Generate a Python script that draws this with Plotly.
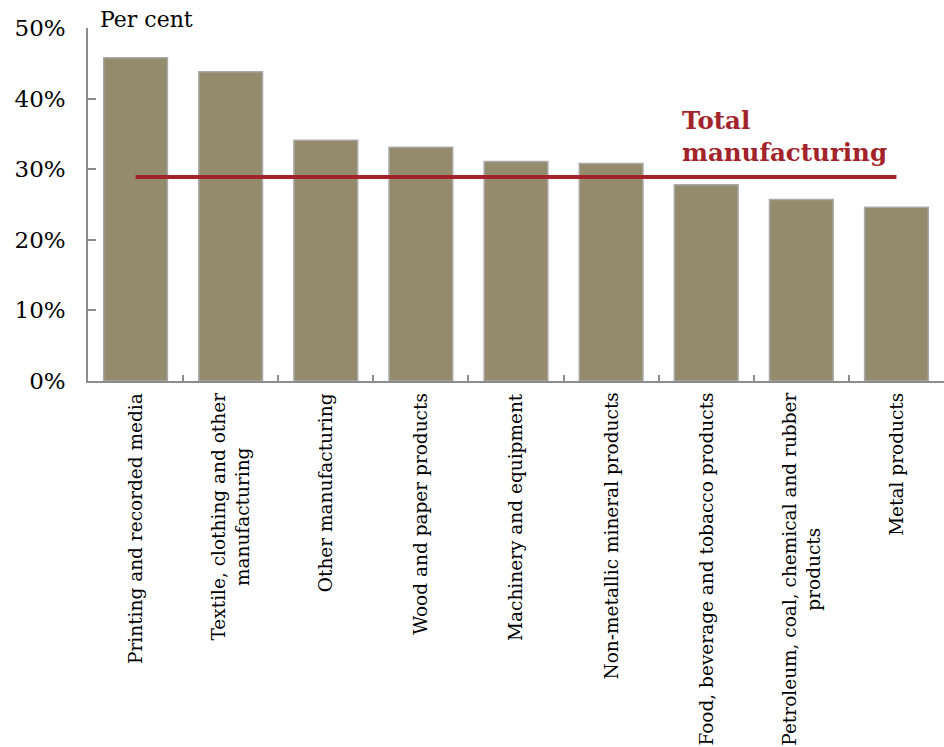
import plotly.graph_objects as go

# Share of output by manufacturing subdivision, per cent
categories = [
    "Printing and recorded media",
    "Textile, clothing and other<br>manufacturing",
    "Other manufacturing",
    "Wood and paper products",
    "Machinery and equipment",
    "Non-metallic mineral products",
    "Food, beverage and tobacco products",
    "Petroleum, coal, chemical and rubber<br>products",
    "Metal products",
]
values = [45.8, 43.8, 34.1, 33.1, 31.1, 30.8, 27.8, 25.7, 24.6]
total_manufacturing = 28.9

y_ticks = [0, 10, 20, 30, 40, 50]
y_tick_labels = [f"{v}%" for v in y_ticks]

FONT = "DejaVu Serif"
RED = "#A3232A"

fig = go.Figure()

fig.add_trace(go.Bar(
    x=list(range(len(categories))),
    y=values,
    marker=dict(color="#948A6C", line=dict(color="#A9A9A9", width=1.5)),
    showlegend=False,
    hoverinfo="skip",
))

fig.add_trace(go.Scatter(
    x=[0, len(categories) - 1],
    y=[total_manufacturing, total_manufacturing],
    mode="lines",
    line=dict(color=RED, width=4),
    showlegend=False,
    hoverinfo="skip",
))

annotations = []
for i, label in enumerate(categories):
    annotations.append(dict(
        x=i, xref="x", y=-0.028, yref="paper",
        text=label, textangle=-90, showarrow=False,
        xanchor="center", yanchor="top", align="center",
        font=dict(family=FONT, size=18.5, color="#000000"),
    ))

annotations.append(dict(
    x=0.012, xref="paper", y=1.025, yref="paper",
    text="Per cent", showarrow=False, xanchor="left", yanchor="middle",
    font=dict(family=FONT, size=22, color="#000000"),
))

annotations.append(dict(
    x=0.692, xref="paper", y=34.6, yref="y",
    text="<b>Total<br>manufacturing</b>", showarrow=False,
    xanchor="left", yanchor="middle", align="left",
    font=dict(family=FONT, size=24.5, color=RED),
))

fig.update_layout(
    width=944, height=747,
    margin=dict(l=88, r=0, t=28, b=366),
    plot_bgcolor="white", paper_bgcolor="white",
    bargap=0.33,
    annotations=annotations,
    xaxis=dict(
        range=[-0.5, len(categories) - 0.5],
        tickmode="array",
        tickvals=[i + 0.5 for i in range(len(categories) - 1)],
        ticktext=[""] * (len(categories) - 1),
        ticks="inside", ticklen=6, tickcolor="#8C8C8C", tickwidth=1.5,
        showline=True, linecolor="#8C8C8C", linewidth=1.5,
        showgrid=False, zeroline=False,
    ),
    yaxis=dict(
        range=[0, 50],
        tickmode="array", tickvals=y_ticks, ticktext=y_tick_labels,
        ticks="inside", ticklen=8, tickcolor="#8C8C8C", tickwidth=1.5,
        showline=True, linecolor="#8C8C8C", linewidth=1.5,
        showgrid=False, zeroline=False,
        tickfont=dict(family=FONT, size=23, color="#000000"),
        ticklabelstandoff=16,
    ),
)

fig.write_html("out.html")
